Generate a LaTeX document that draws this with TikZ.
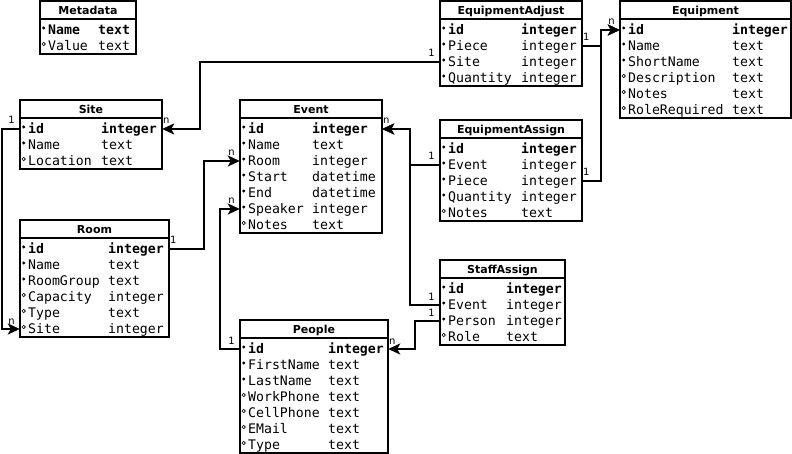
\documentclass[tikz,border=0pt]{standalone}
\usepackage{fontspec}
\usepackage{tikz}
\usetikzlibrary{arrows.meta,calc}
\newfontfamily\fieldfont{DejaVu Sans Mono}
\newfontfamily\headfont{DejaVu Sans}
\tikzset{
  tblframe/.style={draw=black, line width=2pt},
  tblhead/.style={font=\headfont\bfseries\fontsize{11}{13}\selectfont, anchor=base, inner sep=0pt},
  rowbox/.style={inner sep=0pt, minimum height=16pt},
  txtr/.style={font=\fieldfont\fontsize{13.2}{16}\selectfont, anchor=base west, inner sep=0pt},
  txto/.style={txtr},
  txtk/.style={txtr, font=\fieldfont\bfseries\fontsize{13.2}{16}\selectfont},
  dotk/.style={fill=black},
  dotr/.style={fill=black},
  doto/.style={draw=black, line width=.6pt},
  link/.style={-{Stealth[length=12pt,width=11pt,inset=3pt]}, line width=2pt},
  cardL/.style={font=\headfont\fontsize{10}{12}\selectfont, anchor=base east, inner sep=0pt, xshift=-4pt, yshift=5pt},
  cardR/.style={cardL, anchor=base west, xshift=4pt}
}
% #1 name, #2 title, #3 top left, #4 width, #5 type column, #6 rows mark/field/type
\newcommand{\dbtable}[6]{
  \coordinate (#1) at #3;
  \node[tblhead] (#1-head) at ($(#1)+(#4/2,13.5)$) {#2};
  \foreach \m/\f/\t [count=\i from 0] in {#6}{
    \node[rowbox, minimum width=#4pt] (#1-\f) at ($(#1)+(#4/2,29+16*\i)$) {};
    \path[dot\m] ($(#1)+(3.7,27+16*\i)$) circle (1.7pt);
    \node[txt\m] (#1-\f-name) at ($(#1)+(8,33.5+16*\i)$) {\f};
    \node[txt\m] (#1-\f-type) at ($(#1)+(#5,33.5+16*\i)$) {\t};
    \xdef\lastrow{\i}
  }
  \draw[line width=2pt] ($(#1)+(0,18)$) -- ++(#4,0);
  \draw[tblframe] (#1) rectangle ($(#1)+(#4,37+16*\lastrow)$);
}

\begin{document}
\begin{tikzpicture}[x=1pt, y=-1pt]
  \useasboundingbox (0,0) rectangle (792,454);
  \dbtable{meta}{Metadata}{(40,1)}{96}{58}{k/Name/text, o/Value/text}
  \dbtable{eqadj}{EquipmentAdjust}{(440,1)}{142}{81}{k/id/integer, r/Piece/integer, r/Site/integer, r/Quantity/integer}
  \dbtable{equip}{Equipment}{(620,1)}{171}{112}{k/id/integer, r/Name/text, r/ShortName/text, o/Description/text, o/Notes/text, o/RoleRequired/text}
  \dbtable{site}{Site}{(20,100)}{142}{81}{k/id/integer, r/Name/text, o/Location/text}
  \dbtable{event}{Event}{(240,100)}{142}{72}{k/id/integer, r/Name/text, r/Room/integer, r/Start/datetime, r/End/datetime, r/Speaker/integer, o/Notes/text}
  \dbtable{eqasg}{EquipmentAssign}{(440,120)}{142}{81}{k/id/integer, r/Event/integer, r/Piece/integer, r/Quantity/integer, o/Notes/text}
  \dbtable{room}{Room}{(20,220)}{149}{88}{k/id/integer, r/Name/text, r/RoomGroup/text, o/Capacity/integer, o/Type/text, o/Site/integer}
  \dbtable{staff}{StaffAssign}{(440,260)}{125}{66}{k/id/integer, r/Event/integer, r/Person/integer, o/Role/text}
  \dbtable{people}{People}{(240,320)}{148}{88}{k/id/integer, r/FirstName/text, r/LastName/text, o/WorkPhone/text, o/CellPhone/text, o/EMail/text, o/Type/text}

  \draw[link] (eqadj-Site.west) node[cardL] (c1a) {1} -- ++(-240,0) |- (site-id.east) node[cardR] (c1b) {n};
  \draw[link] (eqadj-Piece.east) node[cardR] (c2a) {1} -- ++(18.5,0) |- (equip-id.west) node[cardL] (c2b) {n};
  \draw[link] (eqasg-Piece.east) node[cardR] (c3a) {1} -- ++(18.5,0) |- (equip-id.west);
  \draw[link] (eqasg-Event.west) node[cardL] (c4a) {1} -- ++(-30,0) |- (event-id.east) node[cardR] (c4b) {n};
  \draw[link] (staff-Event.west) node[cardL] (c5a) {1} -- ++(-30,0) |- (event-id.east);
  \draw[link] (staff-Person.west) node[cardL] (c6a) {1} -- ++(-25,0) |- (people-id.east) node[cardR] (c6b) {n};
  \draw[link] (room-id.east) node[cardR] (c7a) {1} -- ++(35,0) |- (event-Room.west) node[cardL] (c7b) {n};
  \draw[link] (people-id.west) node[cardL] (c8a) {1} -- ++(-20,0) |- (event-Speaker.west) node[cardL] (c8b) {n};
  \draw[link] (site-id.west) node[cardL] (c9a) {1} -- ++(-18,0) |- (room-Site.west) node[cardL] (c9b) {n};
\end{tikzpicture}
\end{document}
